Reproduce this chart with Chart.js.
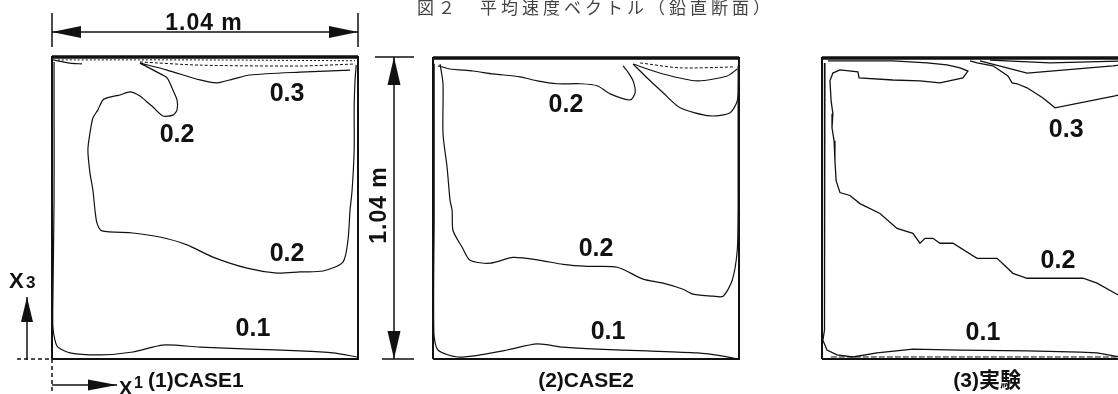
<!DOCTYPE html>
<html>
<head>
<meta charset="utf-8">
<script src="https://cdn.jsdelivr.net/npm/chart.js@4/dist/chart.umd.min.js"></script>
<style>
  body { margin: 0; width: 1118px; height: 394px; overflow: hidden; background: #fff; position: relative; }
  canvas { position: absolute; top: 0; }
  #titulo { position: absolute; left: 417px; top: -3px; z-index: 2; font: 17px "Noto Sans CJK JP", sans-serif;
            letter-spacing: 4px; color: #444; white-space: nowrap; line-height: 20px; }
</style>
</head>
<body>
<div id="titulo">図２　平均速度ベクトル（鉛直断面）</div>
<canvas id="case1" width="420" height="394" style="left:0"></canvas>
<canvas id="case2" width="340" height="394" style="left:420px"></canvas>
<canvas id="case3" width="340" height="394" style="left:790px"></canvas>
<script>
// Caja de 1.04 m x 1.04 m, coordenadas (x1, x3) en metros
var LADO = 1.04;
var marco = [[0, 0], [1.04, 0], [1.04, 1.04], [0, 1.04], [0, 0]];
var techo = [[0, 1.04], [1.04, 1.04]];

// (1) CASE1
var case1_03 = [[0.299,1.019],[0.391,0.995],[0.503,0.961],[0.561,0.951],[0.615,0.964],[0.673,0.978],[0.843,0.988],[1.013,0.995]];
var case1_02 = [[0.299,1.019],[0.357,0.988],[0.391,0.968],[0.411,0.926],[0.425,0.892],[0.425,0.858],[0.411,0.840],[0.377,0.837],[0.343,0.868],[0.323,0.885],[0.299,0.906],[0.265,0.920],[0.231,0.909],[0.197,0.902],[0.173,0.892],[0.156,0.858],[0.139,0.830],[0.129,0.778],[0.122,0.720],[0.129,0.641],[0.139,0.582],[0.146,0.513],[0.153,0.468],[0.170,0.441],[0.275,0.434],[0.367,0.420],[0.459,0.393],[0.547,0.351],[0.663,0.313],[0.765,0.296],[0.843,0.300],[0.921,0.303],[0.989,0.334],[1.006,0.410],[1.013,0.513],[1.020,0.582],[1.027,0.720],[1.027,0.868],[1.030,0.961],[1.034,1.013]];
var case1_01 = [[0.007,1.023],[0.007,0.892],[0.007,0.547],[0.003,0.203],[0.003,0.110],[0.010,0.065],[0.020,0.041],[0.061,0.021],[0.163,0.014],[0.275,0.024],[0.377,0.048],[0.503,0.041],[0.673,0.034],[0.843,0.028],[0.955,0.021],[1.037,0.007]];
var case1_04 = [[0.003,1.030],[0.061,1.019],[0.102,1.016]];
var case1_05 = [[0.299,1.023],[0.503,1.012],[0.843,1.009],[1.030,1.016]];
var case1_06 = [[0.020,1.030],[0.500,1.030],[1.030,1.027]];

// (2) CASE2
var case2_02a = [[0.017,1.013],[0.058,1.002],[0.136,0.995],[0.204,0.985],[0.296,0.975],[0.354,0.961],[0.422,0.951],[0.500,0.951],[0.558,0.944],[0.602,0.916],[0.670,0.895],[0.687,0.920],[0.680,0.961],[0.660,0.995],[0.646,1.013]];
var case2_03 = [[0.680,1.019],[0.728,0.971],[0.782,0.920],[0.840,0.868],[0.942,0.840],[1.010,0.851],[1.034,0.892],[1.037,0.951],[1.037,1.013]];
var case2_04 = [[0.680,1.019],[0.782,0.985],[0.898,0.961],[1.000,0.978],[1.034,1.002]];
var case2_05 = [[0.704,1.023],[0.840,1.006],[1.020,1.009]];
var case2_02b = [[0.024,1.019],[0.034,0.951],[0.034,0.778],[0.048,0.661],[0.058,0.548],[0.065,0.513],[0.068,0.444],[0.099,0.386],[0.126,0.341],[0.194,0.331],[0.272,0.351],[0.364,0.341],[0.442,0.327],[0.524,0.320],[0.626,0.317],[0.714,0.276],[0.782,0.262],[0.850,0.241],[0.884,0.224],[0.952,0.217],[0.986,0.217],[1.017,0.272],[1.034,0.375],[1.037,0.513],[1.037,0.582],[1.037,0.892]];
var case2_01 = [[0.004,1.020],[0.004,0.500],[0.003,0.090],[0.017,0.031],[0.082,0.007],[0.160,0.014],[0.252,0.031],[0.354,0.052],[0.442,0.041],[0.558,0.034],[0.728,0.028],[0.898,0.021],[0.986,0.010],[1.034,0.000]];

// (3) 実験
var case3_02 = [[0.020,1.030],[0.129,1.030],[0.241,1.030],[0.357,1.023],[0.425,1.016],[0.469,1.006],[0.496,0.995],[0.479,0.971],[0.401,0.954],[0.333,0.961],[0.241,0.964],[0.126,0.971],[0.122,0.992],[0.061,0.999],[0.037,0.988],[0.027,0.961],[0.031,0.892],[0.037,0.847],[0.034,0.799],[0.041,0.754],[0.044,0.685],[0.048,0.616],[0.061,0.575],[0.095,0.565],[0.129,0.537],[0.197,0.503],[0.255,0.451],[0.309,0.434],[0.333,0.400],[0.350,0.417],[0.377,0.417],[0.401,0.400],[0.445,0.400],[0.527,0.348],[0.595,0.348],[0.649,0.296],[0.697,0.279],[0.887,0.279],[0.935,0.262],[0.996,0.227],[1.040,0.203]];
var case3_03 = [[0.503,1.030],[0.527,1.023],[0.581,1.013],[0.632,0.978],[0.646,0.954],[0.663,0.951],[0.697,0.937],[0.751,0.902],[0.792,0.868],[0.996,0.909],[1.040,0.920]];
var case3_04 = [[0.537,1.030],[0.697,0.988],[0.989,1.013],[1.040,1.019]];
var case3_05 = [[0.571,1.033],[0.775,1.023],[1.040,1.030]];
var case3_01 = [[0.010,1.023],[0.010,0.548],[0.007,0.100],[0.003,0.065],[0.017,0.031],[0.051,0.014],[0.105,0.007],[0.187,0.021],[0.309,0.034],[0.469,0.031],[0.697,0.028],[0.877,0.024],[0.935,0.021],[0.996,0.010],[1.040,0.003]];
var case3_06 = [[0.030,0.007],[1.040,0.007]];

function pts(arr) {
    return arr.map(function(p) { return { x: p[0], y: p[1] }; });
}

function linea(arr, ancho, extra) {
    var d = {
        data: pts(arr),
        showLine: true,
        borderColor: '#111',
        backgroundColor: '#111',
        borderWidth: ancho,
        pointRadius: 0,
        fill: false,
        tension: 0.25,
        clip: false
    };
    return Object.assign(d, extra || {});
}

function flecha(ctx, x0, y0, x1, y1, largo, ancho) {
    // linea con punta rellena en (x1, y1)
    var a = Math.atan2(y1 - y0, x1 - x0);
    var c = Math.cos(a), s = Math.sin(a);
    ctx.beginPath(); ctx.moveTo(x0, y0); ctx.lineTo(x1, y1); ctx.stroke();
    ctx.beginPath();
    ctx.moveTo(x1, y1);
    ctx.lineTo(x1 - largo * c + ancho * s, y1 - largo * s - ancho * c);
    ctx.lineTo(x1 - largo * c - ancho * s, y1 - largo * s + ancho * c);
    ctx.closePath(); ctx.fill();
}

function dibujarCotas(chart) {
    var ctx = chart.ctx, sx = chart.scales.x, sy = chart.scales.y;
    var xl = sx.getPixelForValue(0), xr = sx.getPixelForValue(LADO);
    var yt = sy.getPixelForValue(LADO), yb = sy.getPixelForValue(0);
    ctx.strokeStyle = '#111'; ctx.fillStyle = '#111'; ctx.lineWidth = 1.5;

    // cota horizontal 1.04 m
    var yc = yt - 25, xm = (xl + xr) / 2;
    ctx.beginPath();
    ctx.moveTo(xl, yt - 44); ctx.lineTo(xl, yt - 10);
    ctx.moveTo(xr, yt - 44); ctx.lineTo(xr, yt - 10);
    ctx.stroke();
    flecha(ctx, xm, yc, xl, yc, 29, 6);
    flecha(ctx, xm, yc, xr, yc, 29, 6);
    ctx.font = 'bold 23px "Liberation Sans", Arial, sans-serif';
    ctx.letterSpacing = '1px';
    ctx.textAlign = 'center'; ctx.textBaseline = 'alphabetic';
    ctx.fillText('1.04 m', xm - 1, yt - 27);

    // cota vertical 1.04 m
    var xd = xr + 36, ym = (yt + yb) / 2;
    ctx.beginPath();
    ctx.moveTo(xr + 17, yt); ctx.lineTo(xr + 56, yt);
    ctx.moveTo(xr + 24, yb); ctx.lineTo(xr + 56, yb);
    ctx.stroke();
    flecha(ctx, xd, ym, xd, yt, 28, 6.5);
    flecha(ctx, xd, ym, xd, yb, 28, 6.5);
    ctx.save();
    ctx.translate(xr + 22, ym - 3);
    ctx.rotate(-Math.PI / 2);
    ctx.textBaseline = 'middle';
    ctx.fillText('1.04 m', 0, 0);
    ctx.restore();
    ctx.letterSpacing = '0px';

    // ejes x3 y x1
    flecha(ctx, xl - 25, yb + 1, xl - 25, yb - 62, 25, 6);
    flecha(ctx, xl, yb + 26, xl + 65, yb + 26, 29, 5.5);
    ctx.textAlign = 'left'; ctx.textBaseline = 'alphabetic';
    ctx.font = 'bold 22px "Liberation Sans", Arial, sans-serif';
    ctx.fillText('X', xl - 43, yb - 71);
    ctx.font = 'bold 17px "Liberation Sans", Arial, sans-serif';
    ctx.fillText('3', xl - 26, yb - 71);
    ctx.font = 'bold 20px "Liberation Sans", Arial, sans-serif';
    ctx.fillText('X', xl + 67, yb + 36);
    ctx.font = 'bold 16px "Liberation Sans", Arial, sans-serif';
    ctx.fillText('1', xl + 82, yb + 29);
    ctx.font = 'bold 21px "Liberation Sans", Arial, sans-serif';
    ctx.fillText('(1)CASE1', xl + 96, yb + 28);

    // lineas punteadas del origen
    ctx.setLineDash([4, 3]);
    ctx.beginPath();
    ctx.moveTo(xl - 35, yb); ctx.lineTo(xl, yb);
    ctx.moveTo(xl, yb); ctx.lineTo(xl, yb + 40);
    ctx.stroke();
    ctx.setLineDash([]);
}

var rotulos = {
    id: 'rotulos',
    afterDatasetsDraw: function(chart, args, opts) {
        var ctx = chart.ctx, sx = chart.scales.x, sy = chart.scales.y;
        ctx.save();
        ctx.fillStyle = '#111';
        ctx.textAlign = 'center';
        ctx.textBaseline = 'alphabetic';
        ctx.font = 'bold 25px "Liberation Sans", Arial, sans-serif';
        (opts.etiquetas || []).forEach(function(e) {
            ctx.fillText(e.t, sx.getPixelForValue(e.x), sy.getPixelForValue(e.y) + 9);
        });
        if (opts.pie) {
            ctx.font = 'bold 21px "Liberation Sans", "Noto Sans CJK JP", sans-serif';
            ctx.fillText(opts.pie.t, sx.getPixelForValue(opts.pie.x), chart.chartArea.bottom + 28);
        }
        if (opts.cotas) dibujarCotas(chart);
        ctx.restore();
    }
};

function panel(id, padding, datasets, opcRotulos, tension) {
    datasets.forEach(function(d) { if (tension !== undefined) d.tension = tension; });
    datasets.push(linea(marco, 2, { tension: 0 }));
    datasets.push(linea(techo, 3.5, { tension: 0 }));
    var ctx = document.getElementById(id).getContext('2d');
    return new Chart(ctx, {
        type: 'scatter',
        data: { datasets: datasets },
        options: {
            responsive: false,
            animation: false,
            layout: { padding: padding },
            scales: {
                x: { type: 'linear', min: 0, max: LADO, display: false },
                y: { type: 'linear', min: 0, max: LADO, display: false }
            },
            plugins: {
                legend: { display: false },
                tooltip: { enabled: false },
                rotulos: opcRotulos
            }
        },
        plugins: [rotulos]
    });
}

document.addEventListener("DOMContentLoaded", function() {
    // (1) CASE1
    panel('case1', { left: 52, right: 62, top: 57, bottom: 35 }, [
        linea(case1_03, 1.2),
        linea(case1_02, 1.2),
        linea(case1_01, 1.2),
        linea(case1_04, 1.2),
        linea(case1_05, 1, { borderDash: [3, 2] }),
        linea(case1_06, 1, { borderDash: [2, 2] })
    ], {
        etiquetas: [
            { t: '0.3', x: 0.799, y: 0.920 },
            { t: '0.2', x: 0.425, y: 0.778 },
            { t: '0.2', x: 0.799, y: 0.368 },
            { t: '0.1', x: 0.683, y: 0.110 }
        ],
        cotas: true
    });

    // (2) CASE2
    panel('case2', { left: 13, right: 21, top: 58, bottom: 35 }, [
        linea(case2_02a, 1.2),
        linea(case2_03, 1.2),
        linea(case2_04, 1.1),
        linea(case2_05, 1, { borderDash: [3, 2] }),
        linea(case2_02b, 1.2),
        linea(case2_01, 1.2)
    ], {
        etiquetas: [
            { t: '0.2', x: 0.452, y: 0.885 },
            { t: '0.2', x: 0.554, y: 0.386 },
            { t: '0.1', x: 0.595, y: 0.100 }
        ],
        pie: { t: '(2)CASE2', x: 0.52 }
    });

    // (3) 実験
    panel('case3', { left: 32, right: 2, top: 58, bottom: 35 }, [
        linea(case3_02, 1.3),
        linea(case3_03, 1.3),
        linea(case3_04, 1.2),
        linea(case3_05, 1.2),
        linea(case3_01, 1.3),
        linea(case3_06, 1, { borderDash: [6, 2] })
    ], {
        etiquetas: [
            { t: '0.3', x: 0.830, y: 0.799 },
            { t: '0.2', x: 0.802, y: 0.344 },
            { t: '0.1', x: 0.547, y: 0.096 }
        ],
        pie: { t: '(3)実験', x: 0.561 }
    }, 0);
});
</script>
</body>
</html>
